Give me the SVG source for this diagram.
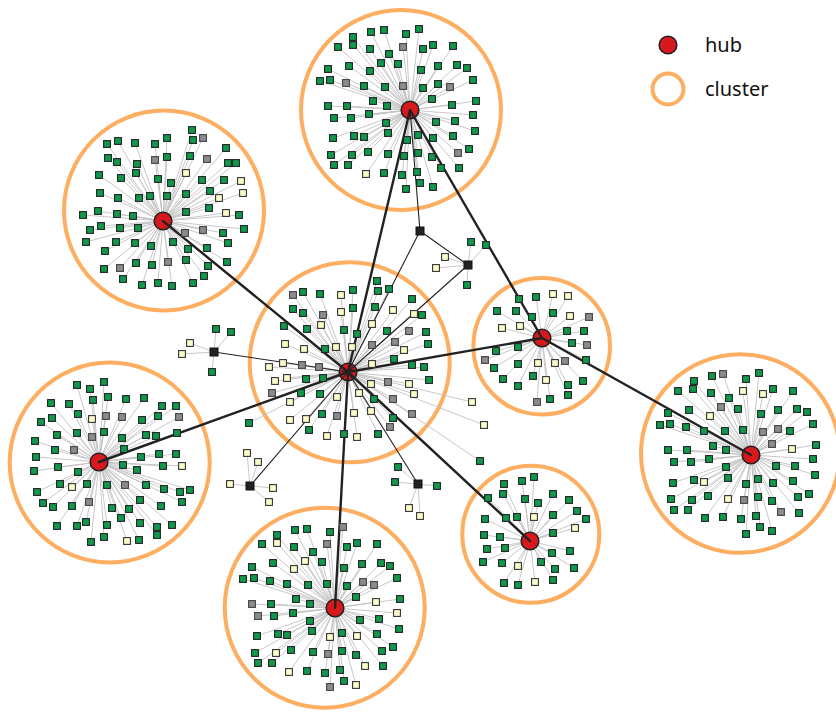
<svg xmlns="http://www.w3.org/2000/svg" xmlns:xlink="http://www.w3.org/1999/xlink" width="836" height="712" viewBox="0 0 836 712">
<style>
.bg{fill:#fff}
.cl{fill:none;stroke:#fdae61;stroke-width:4}
.sp{fill:none;stroke:#c2c2c2;stroke-width:0.9}
.thick{fill:none;stroke:#222;stroke-width:2.4;stroke-linecap:round}
.thin{fill:none;stroke:#222;stroke-width:1.1}
.hub{fill:#d7191c;stroke:#222;stroke-width:1.6}
.g{fill:#0f9a4b;stroke:#222;stroke-width:1.1}
.G{fill:#8c8c8c;stroke:#444;stroke-width:1.1}
.y{fill:#ffffcc;stroke:#333;stroke-width:1.1}
.j{fill:#222;stroke:#111;stroke-width:1}
.lbl{font-family:"Noto Sans","Open Sans","Liberation Sans",sans-serif;font-size:20px;fill:#111}
</style>
<defs>
<rect id="s" x="-3.4" y="-3.4" width="6.8" height="6.8"/>
<rect id="jn" x="-4" y="-4" width="8" height="8"/>
</defs>
<rect class="bg" width="836" height="712"/>

<g id="cluster-circles">
<circle class="cl" cx="401" cy="110" r="100"/>
<circle class="cl" cx="164" cy="210.5" r="100"/>
<circle class="cl" cx="109.7" cy="462.5" r="100"/>
<circle class="cl" cx="324.7" cy="607.7" r="100"/>
<circle class="cl" cx="530.8" cy="534.3" r="68.5"/>
<circle class="cl" cx="740.3" cy="453.5" r="99.3"/>
<circle class="cl" cx="541.7" cy="346.2" r="68.3"/>
<circle class="cl" cx="349.7" cy="362.3" r="100"/>
</g>

<g id="connectors">
<path class="sp" d="M410 110L353 37M410 110L371 32M410 110L384 30M410 110L406 34M410 110L419 29M410 110L338 47M410 110L353 45M410 110L370 49M410 110L423 49M410 110L433 45M410 110L453 46M410 110L389 54M410 110L381 63M410 110L398 64M410 110L349 66M410 110L328 69M410 110L370 71M410 110L421 70M410 110L438 66M410 110L457 65M410 110L467 68M410 110L320 81M410 110L330 80M410 110L364 86M410 110L385 87M410 110L423 88M410 110L438 84M410 110L473 80M410 110L373 101M410 110L387 106M410 110L328 106M410 110L347 106M410 110L432 99M410 110L452 105M410 110L476 101M410 110L334 118M410 110L351 118M410 110L369 114M410 110L473 115M410 110L386 123M410 110L436 122M410 110L455 121M410 110L388 133M410 110L333 138M410 110L354 136M410 110L364 137M410 110L418 135M410 110L407 140M410 110L433 138M410 110L453 136M410 110L475 131M410 110L331 155M410 110L352 155M410 110L368 152M410 110L388 154M410 110L404 156M410 110L418 153M410 110L432 157M410 110L469 149M410 110L334 165M410 110L348 165M410 110L384 173M410 110L402 175M410 110L417 172M410 110L441 168M410 110L459 168M410 110L420 183M410 110L433 187M410 110L406 189M410 110L403 47M410 110L346 83M410 110L403 86M410 110L450 87M410 110L458 153M410 110L366 174"/>
<path class="sp" d="M163 221L192 130M163 221L226 148M163 221L107 144M163 221L118 141M163 221L135 143M163 221L155 144M163 221L167 138M163 221L193 140M163 221L108 158M163 221L117 162M163 221L137 164M163 221L167 157M163 221L190 156M163 221L228 163M163 221L236 163M163 221L99 175M163 221L121 178M163 221L136 173M163 221L158 179M163 221L171 183M163 221L202 180M163 221L224 180M163 221L100 193M163 221L118 198M163 221L139 198M163 221L150 196M163 221L167 196M163 221L186 194M163 221L210 191M163 221L83 215M163 221L98 211M163 221L117 214M163 221L133 216M163 221L186 212M163 221L209 208M163 221L239 215M163 221L90 230M163 221L101 226M163 221L120 228M163 221L138 228M163 221L223 233M163 221L244 229M163 221L86 242M163 221L105 251M163 221L116 242M163 221L135 243M163 221L151 246M163 221L173 242M163 221L188 249M163 221L207 248M163 221L228 243M163 221L104 269M163 221L136 263M163 221L152 265M163 221L186 260M163 221L208 266M163 221L227 262M163 221L123 279M163 221L142 285M163 221L158 283M163 221L172 286M163 221L193 283M163 221L204 276M163 221L203 138M163 221L155 160M163 221L207 159M163 221L185 233M163 221L203 230M163 221L120 268M163 221L168 262M163 221L186 173M163 221L241 181M163 221L219 198M163 221L243 193M163 221L226 213"/>
<path class="sp" d="M99 462L77 385M99 462L90 389M99 462L104 382M99 462L51 403M99 462L69 404M99 462L78 414M99 462L93 400M99 462L108 397M99 462L126 399M99 462L144 398M99 462L162 406M99 462L176 406M99 462L41 422M99 462L142 420M99 462L158 416M99 462L52 418M99 462L57 435M99 462L77 433M99 462L104 432M99 462L122 438M99 462L146 435M99 462L156 436M99 462L177 433M99 462L35 441M99 462L55 450M99 462L124 449M99 462L159 454M99 462L176 454M99 462L36 457M99 462L58 467M99 462L78 472M99 462L123 465M99 462L141 457M99 462L137 470M99 462L163 466M99 462L34 471M99 462L37 492M99 462L60 484M99 462L87 484M99 462L107 485M99 462L146 485M99 462L164 489M99 462L180 492M99 462L190 490M99 462L43 503M99 462L53 507M99 462L72 506M99 462L112 508M99 462L129 509M99 462L140 500M99 462L161 506M99 462L182 502M99 462L57 526M99 462L77 526M99 462L86 522M99 462L107 525M99 462L121 518M99 462L140 523M99 462L157 527M99 462L172 525M99 462L91 542M99 462L104 537M99 462L139 540M99 462L157 535M99 462L106 416M99 462L122 417M99 462L179 417M99 462L92 437M99 462L74 450M99 462L125 485M99 462L89 502M99 462L92 419M99 462L182 466M99 462L72 487M99 462L127 541"/>
<path class="sp" d="M335 608L307 529M335 608L295 530M335 608L277 535M335 608L330 532M335 608L262 544M335 608L294 547M335 608L347 547M335 608L357 543M335 608L377 544M335 608L313 552M335 608L322 562M335 608L273 563M335 608L344 568M335 608L362 564M335 608L381 563M335 608L390 566M335 608L252 567M335 608L243 579M335 608L254 578M335 608L270 581M335 608L287 584M335 608L308 585M335 608L327 584M335 608L347 586M335 608L397 578M335 608L356 597M335 608L296 599M335 608L310 604M335 608L271 604M335 608L400 599M335 608L274 616M335 608L293 613M335 608L360 620M335 608L379 619M335 608L310 621M335 608L257 636M335 608L278 634M335 608L287 635M335 608L312 631M335 608L342 633M335 608L377 634M335 608L399 629M335 608L255 653M335 608L291 650M335 608L313 652M335 608L342 651M335 608L356 655M335 608L382 651M335 608L393 647M335 608L258 663M335 608L272 663M335 608L307 671M335 608L325 673M335 608L340 670M335 608L383 666M335 608L344 681M335 608L343 527M335 608L327 544M335 608L363 582M335 608L374 585M335 608L252 604M335 608L258 616M335 608L328 654M335 608L330 687M335 608L277 543M335 608L305 561M335 608L294 569M335 608L376 602M335 608L397 613M335 608L330 637M335 608L357 636M335 608L276 653M335 608L289 672M335 608L365 666M335 608L356 685"/>
<path class="sp" d="M530 541L534 477M530 541L522 481M530 541L504 484M530 541L488 498M530 541L503 494M530 541L525 499M530 541L538 503M530 541L553 494M530 541L569 500M530 541L485 519M530 541L506 518M530 541L517 517M530 541L553 515M530 541L577 511M530 541L586 519M530 541L484 535M530 541L500 537M530 541L553 533M530 541L487 549M530 541L505 548M530 541L552 553M530 541L570 551M530 541L483 562M530 541L502 563M530 541L541 562M530 541L555 569M530 541L574 568M530 541L504 583M530 541L518 585M530 541L553 580M530 541L534 517M530 541L575 528M530 541L518 566M530 541L535 582"/>
<path class="sp" d="M751 455L712 376M751 455L746 379M751 455L759 373M751 455L694 381M751 455L678 391M751 455L693 389M751 455L711 393M751 455L729 398M751 455L773 389M751 455L793 391M751 455L689 410M751 455L668 413M751 455L738 409M751 455L761 414M751 455L778 410M751 455L797 409M751 455L807 412M751 455L660 425M751 455L670 424M751 455L686 427M751 455L704 431M751 455L725 431M751 455L743 430M751 455L790 431M751 455L813 424M751 455L668 450M751 455L687 450M751 455L713 446M751 455L726 450M751 455L816 445M751 455L674 462M751 455L691 462M751 455L709 459M751 455L813 459M751 455L776 466M751 455L795 466M751 455L726 467M751 455L673 483M751 455L694 480M751 455L728 478M751 455L746 484M751 455L758 479M751 455L773 483M751 455L793 481M751 455L815 475M751 455L671 499M751 455L692 500M751 455L708 496M751 455L758 497M751 455L772 501M751 455L798 497M751 455L809 494M751 455L674 510M751 455L688 510M751 455L705 518M751 455L723 517M751 455L741 519M751 455L756 516M751 455L799 513M751 455L746 534M751 455L760 527M751 455L772 531M751 455L723 374M751 455L721 407M751 455L763 432M751 455L778 429M751 455L772 444M751 455L744 500M751 455L781 512M751 455L743 391M751 455L763 394M751 455L710 416M751 455L792 449M751 455L704 482M751 455L728 499"/>
<path class="sp" d="M542 338L519 299M542 338L536 297M542 338L497 311M542 338L516 311M542 338L532 317M542 338L553 313M542 338L567 331M542 338L584 331M542 338L572 343M542 338L518 347M542 338L496 351M542 338L494 368M542 338L518 364M542 338L586 360M542 338L503 379M542 338L518 386M542 338L533 376M542 338L568 385M542 338L583 381M542 338L550 399M542 338L568 395M542 338L589 317M542 338L587 345M542 338L485 360M542 338L565 361M542 338L537 402M542 338L553 294M542 338L568 296M542 338L570 316M542 338L502 328M542 338L520 326M542 338L538 363M542 338L555 363M542 338L546 380"/>
<path class="sp" d="M348 372L377 281M348 372L303 292M348 372L320 294M348 372L353 290M348 372L378 291M348 372L389 289M348 372L293 309M348 372L303 313M348 372L353 308M348 372L375 307M348 372L412 299M348 372L422 315M348 372L284 326M348 372L307 329M348 372L344 330M348 372L357 334M348 372L387 331M348 372L426 332M348 372L325 349M348 372L428 344M348 372L394 359M348 372L412 365M348 372L424 367M348 372L306 379M348 372L323 378M348 372L429 380M348 372L301 393M348 372L320 394M348 372L374 399M348 372L322 414M348 372L393 418M348 372L309 430M348 372L344 434M348 372L378 434M348 372L249 423M348 372L480 461M348 372L293 295M348 372L323 315M348 372L409 331M348 372L372 345M348 372L395 342M348 372L302 365M348 372L319 367M348 372L388 382M348 372L272 393M348 372L393 399M348 372L337 416M348 372L412 414M348 372L390 427M348 372L341 295M348 372L341 312M348 372L393 310M348 372L414 314M348 372L321 325M348 372L372 324M348 372L285 344M348 372L304 349M348 372L336 347M348 372L352 347M348 372L404 350M348 372L269 367M348 372L283 363M348 372L372 364M348 372L275 381M348 372L287 378M348 372L371 384M348 372L409 384M348 372L290 402M348 372L337 397M348 372L359 393M348 372L414 394M348 372L290 420M348 372L306 419M348 372L354 413M348 372L371 411M348 372L327 436M348 372L357 437M348 372L472 402M348 372L484 425"/>
<path class="sp" d="M468 265L471 242M468 265L486 245M468 265L467 285M468 265L445 257M468 265L436 268M214 352L216 329M214 352L231 332M214 352L212 372M214 352L190 343M214 352L182 354M250 486L247 453M250 486L258 462M250 486L230 484M250 486L273 488M250 486L269 502M418 484L398 467M418 484L395 482M418 484L437 486M418 484L409 508M418 484L420 516"/>
</g>

<g id="hubs">
<g id="hub-top"><circle class="hub" cx="410" cy="110" r="8.8"/></g>
<g id="hub-upper-left"><circle class="hub" cx="163" cy="221" r="8.8"/></g>
<g id="hub-left"><circle class="hub" cx="99" cy="462" r="8.8"/></g>
<g id="hub-bottom"><circle class="hub" cx="335" cy="608" r="8.8"/></g>
<g id="hub-bottom-right"><circle class="hub" cx="530" cy="541" r="8.8"/></g>
<g id="hub-right"><circle class="hub" cx="751" cy="455" r="8.8"/></g>
<g id="hub-right-small"><circle class="hub" cx="542" cy="338" r="8.8"/></g>
<g id="hub-center"><circle class="hub" cx="348" cy="372" r="8.8"/></g>
</g>

<g id="links">
<path class="thick" d="M410 110L348 372M410 110L542 338M163 221L348 372M99 462L348 372M335 608L348 372M348 372L542 338M348 372L530 541M542 338L751 455"/>
<path class="thin" d="M410 110L420 231M420 231L468 265M420 231L348 372M468 265L348 372M214 352L348 372M250 486L348 372M418 484L348 372"/>
</g>

<g id="junctions">
<g id="junction-a"><use href="#jn" class="j" x="420" y="231"/></g>
<g id="junction-b"><use href="#jn" class="j" x="468" y="265"/></g>
<g id="junction-c"><use href="#jn" class="j" x="214" y="352"/></g>
<g id="junction-d"><use href="#jn" class="j" x="250" y="486"/></g>
<g id="junction-e"><use href="#jn" class="j" x="418" y="484"/></g>
</g>

<g id="leaves-top">
<g class="g"><use href="#s" x="353" y="37"/><use href="#s" x="371" y="32"/><use href="#s" x="384" y="30"/><use href="#s" x="406" y="34"/><use href="#s" x="419" y="29"/><use href="#s" x="338" y="47"/><use href="#s" x="353" y="45"/><use href="#s" x="370" y="49"/><use href="#s" x="423" y="49"/><use href="#s" x="433" y="45"/><use href="#s" x="453" y="46"/><use href="#s" x="389" y="54"/><use href="#s" x="381" y="63"/><use href="#s" x="398" y="64"/><use href="#s" x="349" y="66"/><use href="#s" x="328" y="69"/><use href="#s" x="370" y="71"/><use href="#s" x="421" y="70"/><use href="#s" x="438" y="66"/><use href="#s" x="457" y="65"/><use href="#s" x="467" y="68"/><use href="#s" x="320" y="81"/><use href="#s" x="330" y="80"/><use href="#s" x="364" y="86"/><use href="#s" x="385" y="87"/><use href="#s" x="423" y="88"/><use href="#s" x="438" y="84"/><use href="#s" x="473" y="80"/><use href="#s" x="373" y="101"/><use href="#s" x="387" y="106"/><use href="#s" x="328" y="106"/><use href="#s" x="347" y="106"/><use href="#s" x="432" y="99"/><use href="#s" x="452" y="105"/><use href="#s" x="476" y="101"/><use href="#s" x="334" y="118"/><use href="#s" x="351" y="118"/><use href="#s" x="369" y="114"/><use href="#s" x="473" y="115"/><use href="#s" x="386" y="123"/><use href="#s" x="436" y="122"/><use href="#s" x="455" y="121"/><use href="#s" x="388" y="133"/><use href="#s" x="333" y="138"/><use href="#s" x="354" y="136"/><use href="#s" x="364" y="137"/><use href="#s" x="418" y="135"/><use href="#s" x="407" y="140"/><use href="#s" x="433" y="138"/><use href="#s" x="453" y="136"/><use href="#s" x="475" y="131"/><use href="#s" x="331" y="155"/><use href="#s" x="352" y="155"/><use href="#s" x="368" y="152"/><use href="#s" x="388" y="154"/><use href="#s" x="404" y="156"/><use href="#s" x="418" y="153"/><use href="#s" x="432" y="157"/><use href="#s" x="469" y="149"/><use href="#s" x="334" y="165"/><use href="#s" x="348" y="165"/><use href="#s" x="384" y="173"/><use href="#s" x="402" y="175"/><use href="#s" x="417" y="172"/><use href="#s" x="441" y="168"/><use href="#s" x="459" y="168"/><use href="#s" x="420" y="183"/><use href="#s" x="433" y="187"/><use href="#s" x="406" y="189"/></g>
<g class="G"><use href="#s" x="403" y="47"/><use href="#s" x="346" y="83"/><use href="#s" x="403" y="86"/><use href="#s" x="450" y="87"/><use href="#s" x="458" y="153"/></g>
<g class="y"><use href="#s" x="366" y="174"/></g>
</g>

<g id="leaves-upper-left">
<g class="g"><use href="#s" x="192" y="130"/><use href="#s" x="226" y="148"/><use href="#s" x="107" y="144"/><use href="#s" x="118" y="141"/><use href="#s" x="135" y="143"/><use href="#s" x="155" y="144"/><use href="#s" x="167" y="138"/><use href="#s" x="193" y="140"/><use href="#s" x="108" y="158"/><use href="#s" x="117" y="162"/><use href="#s" x="137" y="164"/><use href="#s" x="167" y="157"/><use href="#s" x="190" y="156"/><use href="#s" x="228" y="163"/><use href="#s" x="236" y="163"/><use href="#s" x="99" y="175"/><use href="#s" x="121" y="178"/><use href="#s" x="136" y="173"/><use href="#s" x="158" y="179"/><use href="#s" x="171" y="183"/><use href="#s" x="202" y="180"/><use href="#s" x="224" y="180"/><use href="#s" x="100" y="193"/><use href="#s" x="118" y="198"/><use href="#s" x="139" y="198"/><use href="#s" x="150" y="196"/><use href="#s" x="167" y="196"/><use href="#s" x="186" y="194"/><use href="#s" x="210" y="191"/><use href="#s" x="83" y="215"/><use href="#s" x="98" y="211"/><use href="#s" x="117" y="214"/><use href="#s" x="133" y="216"/><use href="#s" x="186" y="212"/><use href="#s" x="209" y="208"/><use href="#s" x="239" y="215"/><use href="#s" x="90" y="230"/><use href="#s" x="101" y="226"/><use href="#s" x="120" y="228"/><use href="#s" x="138" y="228"/><use href="#s" x="223" y="233"/><use href="#s" x="244" y="229"/><use href="#s" x="86" y="242"/><use href="#s" x="105" y="251"/><use href="#s" x="116" y="242"/><use href="#s" x="135" y="243"/><use href="#s" x="151" y="246"/><use href="#s" x="173" y="242"/><use href="#s" x="188" y="249"/><use href="#s" x="207" y="248"/><use href="#s" x="228" y="243"/><use href="#s" x="104" y="269"/><use href="#s" x="136" y="263"/><use href="#s" x="152" y="265"/><use href="#s" x="186" y="260"/><use href="#s" x="208" y="266"/><use href="#s" x="227" y="262"/><use href="#s" x="123" y="279"/><use href="#s" x="142" y="285"/><use href="#s" x="158" y="283"/><use href="#s" x="172" y="286"/><use href="#s" x="193" y="283"/><use href="#s" x="204" y="276"/></g>
<g class="G"><use href="#s" x="203" y="138"/><use href="#s" x="155" y="160"/><use href="#s" x="207" y="159"/><use href="#s" x="185" y="233"/><use href="#s" x="203" y="230"/><use href="#s" x="120" y="268"/><use href="#s" x="168" y="262"/></g>
<g class="y"><use href="#s" x="186" y="173"/><use href="#s" x="241" y="181"/><use href="#s" x="219" y="198"/><use href="#s" x="243" y="193"/><use href="#s" x="226" y="213"/></g>
</g>

<g id="leaves-left">
<g class="g"><use href="#s" x="77" y="385"/><use href="#s" x="90" y="389"/><use href="#s" x="104" y="382"/><use href="#s" x="51" y="403"/><use href="#s" x="69" y="404"/><use href="#s" x="78" y="414"/><use href="#s" x="93" y="400"/><use href="#s" x="108" y="397"/><use href="#s" x="126" y="399"/><use href="#s" x="144" y="398"/><use href="#s" x="162" y="406"/><use href="#s" x="176" y="406"/><use href="#s" x="41" y="422"/><use href="#s" x="142" y="420"/><use href="#s" x="158" y="416"/><use href="#s" x="52" y="418"/><use href="#s" x="57" y="435"/><use href="#s" x="77" y="433"/><use href="#s" x="104" y="432"/><use href="#s" x="122" y="438"/><use href="#s" x="146" y="435"/><use href="#s" x="156" y="436"/><use href="#s" x="177" y="433"/><use href="#s" x="35" y="441"/><use href="#s" x="55" y="450"/><use href="#s" x="124" y="449"/><use href="#s" x="159" y="454"/><use href="#s" x="176" y="454"/><use href="#s" x="36" y="457"/><use href="#s" x="58" y="467"/><use href="#s" x="78" y="472"/><use href="#s" x="123" y="465"/><use href="#s" x="141" y="457"/><use href="#s" x="137" y="470"/><use href="#s" x="163" y="466"/><use href="#s" x="34" y="471"/><use href="#s" x="37" y="492"/><use href="#s" x="60" y="484"/><use href="#s" x="87" y="484"/><use href="#s" x="107" y="485"/><use href="#s" x="146" y="485"/><use href="#s" x="164" y="489"/><use href="#s" x="180" y="492"/><use href="#s" x="190" y="490"/><use href="#s" x="43" y="503"/><use href="#s" x="53" y="507"/><use href="#s" x="72" y="506"/><use href="#s" x="112" y="508"/><use href="#s" x="129" y="509"/><use href="#s" x="140" y="500"/><use href="#s" x="161" y="506"/><use href="#s" x="182" y="502"/><use href="#s" x="57" y="526"/><use href="#s" x="77" y="526"/><use href="#s" x="86" y="522"/><use href="#s" x="107" y="525"/><use href="#s" x="121" y="518"/><use href="#s" x="140" y="523"/><use href="#s" x="157" y="527"/><use href="#s" x="172" y="525"/><use href="#s" x="91" y="542"/><use href="#s" x="104" y="537"/><use href="#s" x="139" y="540"/><use href="#s" x="157" y="535"/></g>
<g class="G"><use href="#s" x="106" y="416"/><use href="#s" x="122" y="417"/><use href="#s" x="179" y="417"/><use href="#s" x="92" y="437"/><use href="#s" x="74" y="450"/><use href="#s" x="125" y="485"/><use href="#s" x="89" y="502"/></g>
<g class="y"><use href="#s" x="92" y="419"/><use href="#s" x="182" y="466"/><use href="#s" x="72" y="487"/><use href="#s" x="127" y="541"/></g>
</g>

<g id="leaves-bottom">
<g class="g"><use href="#s" x="307" y="529"/><use href="#s" x="295" y="530"/><use href="#s" x="277" y="535"/><use href="#s" x="330" y="532"/><use href="#s" x="262" y="544"/><use href="#s" x="294" y="547"/><use href="#s" x="347" y="547"/><use href="#s" x="357" y="543"/><use href="#s" x="377" y="544"/><use href="#s" x="313" y="552"/><use href="#s" x="322" y="562"/><use href="#s" x="273" y="563"/><use href="#s" x="344" y="568"/><use href="#s" x="362" y="564"/><use href="#s" x="381" y="563"/><use href="#s" x="390" y="566"/><use href="#s" x="252" y="567"/><use href="#s" x="243" y="579"/><use href="#s" x="254" y="578"/><use href="#s" x="270" y="581"/><use href="#s" x="287" y="584"/><use href="#s" x="308" y="585"/><use href="#s" x="327" y="584"/><use href="#s" x="347" y="586"/><use href="#s" x="397" y="578"/><use href="#s" x="356" y="597"/><use href="#s" x="296" y="599"/><use href="#s" x="310" y="604"/><use href="#s" x="271" y="604"/><use href="#s" x="400" y="599"/><use href="#s" x="274" y="616"/><use href="#s" x="293" y="613"/><use href="#s" x="360" y="620"/><use href="#s" x="379" y="619"/><use href="#s" x="310" y="621"/><use href="#s" x="257" y="636"/><use href="#s" x="278" y="634"/><use href="#s" x="287" y="635"/><use href="#s" x="312" y="631"/><use href="#s" x="342" y="633"/><use href="#s" x="377" y="634"/><use href="#s" x="399" y="629"/><use href="#s" x="255" y="653"/><use href="#s" x="291" y="650"/><use href="#s" x="313" y="652"/><use href="#s" x="342" y="651"/><use href="#s" x="356" y="655"/><use href="#s" x="382" y="651"/><use href="#s" x="393" y="647"/><use href="#s" x="258" y="663"/><use href="#s" x="272" y="663"/><use href="#s" x="307" y="671"/><use href="#s" x="325" y="673"/><use href="#s" x="340" y="670"/><use href="#s" x="383" y="666"/><use href="#s" x="344" y="681"/></g>
<g class="G"><use href="#s" x="343" y="527"/><use href="#s" x="327" y="544"/><use href="#s" x="363" y="582"/><use href="#s" x="374" y="585"/><use href="#s" x="252" y="604"/><use href="#s" x="258" y="616"/><use href="#s" x="328" y="654"/><use href="#s" x="330" y="687"/></g>
<g class="y"><use href="#s" x="277" y="543"/><use href="#s" x="305" y="561"/><use href="#s" x="294" y="569"/><use href="#s" x="376" y="602"/><use href="#s" x="397" y="613"/><use href="#s" x="330" y="637"/><use href="#s" x="357" y="636"/><use href="#s" x="276" y="653"/><use href="#s" x="289" y="672"/><use href="#s" x="365" y="666"/><use href="#s" x="356" y="685"/></g>
</g>

<g id="leaves-bottom-right">
<g class="g"><use href="#s" x="534" y="477"/><use href="#s" x="522" y="481"/><use href="#s" x="504" y="484"/><use href="#s" x="488" y="498"/><use href="#s" x="503" y="494"/><use href="#s" x="525" y="499"/><use href="#s" x="538" y="503"/><use href="#s" x="553" y="494"/><use href="#s" x="569" y="500"/><use href="#s" x="485" y="519"/><use href="#s" x="506" y="518"/><use href="#s" x="517" y="517"/><use href="#s" x="553" y="515"/><use href="#s" x="577" y="511"/><use href="#s" x="586" y="519"/><use href="#s" x="484" y="535"/><use href="#s" x="500" y="537"/><use href="#s" x="553" y="533"/><use href="#s" x="487" y="549"/><use href="#s" x="505" y="548"/><use href="#s" x="552" y="553"/><use href="#s" x="570" y="551"/><use href="#s" x="483" y="562"/><use href="#s" x="502" y="563"/><use href="#s" x="541" y="562"/><use href="#s" x="555" y="569"/><use href="#s" x="574" y="568"/><use href="#s" x="504" y="583"/><use href="#s" x="518" y="585"/><use href="#s" x="553" y="580"/></g>
<g class="y"><use href="#s" x="534" y="517"/><use href="#s" x="575" y="528"/><use href="#s" x="518" y="566"/><use href="#s" x="535" y="582"/></g>
</g>

<g id="leaves-right">
<g class="g"><use href="#s" x="712" y="376"/><use href="#s" x="746" y="379"/><use href="#s" x="759" y="373"/><use href="#s" x="694" y="381"/><use href="#s" x="678" y="391"/><use href="#s" x="693" y="389"/><use href="#s" x="711" y="393"/><use href="#s" x="729" y="398"/><use href="#s" x="773" y="389"/><use href="#s" x="793" y="391"/><use href="#s" x="689" y="410"/><use href="#s" x="668" y="413"/><use href="#s" x="738" y="409"/><use href="#s" x="761" y="414"/><use href="#s" x="778" y="410"/><use href="#s" x="797" y="409"/><use href="#s" x="807" y="412"/><use href="#s" x="660" y="425"/><use href="#s" x="670" y="424"/><use href="#s" x="686" y="427"/><use href="#s" x="704" y="431"/><use href="#s" x="725" y="431"/><use href="#s" x="743" y="430"/><use href="#s" x="790" y="431"/><use href="#s" x="813" y="424"/><use href="#s" x="668" y="450"/><use href="#s" x="687" y="450"/><use href="#s" x="713" y="446"/><use href="#s" x="726" y="450"/><use href="#s" x="816" y="445"/><use href="#s" x="674" y="462"/><use href="#s" x="691" y="462"/><use href="#s" x="709" y="459"/><use href="#s" x="813" y="459"/><use href="#s" x="776" y="466"/><use href="#s" x="795" y="466"/><use href="#s" x="726" y="467"/><use href="#s" x="673" y="483"/><use href="#s" x="694" y="480"/><use href="#s" x="728" y="478"/><use href="#s" x="746" y="484"/><use href="#s" x="758" y="479"/><use href="#s" x="773" y="483"/><use href="#s" x="793" y="481"/><use href="#s" x="815" y="475"/><use href="#s" x="671" y="499"/><use href="#s" x="692" y="500"/><use href="#s" x="708" y="496"/><use href="#s" x="758" y="497"/><use href="#s" x="772" y="501"/><use href="#s" x="798" y="497"/><use href="#s" x="809" y="494"/><use href="#s" x="674" y="510"/><use href="#s" x="688" y="510"/><use href="#s" x="705" y="518"/><use href="#s" x="723" y="517"/><use href="#s" x="741" y="519"/><use href="#s" x="756" y="516"/><use href="#s" x="799" y="513"/><use href="#s" x="746" y="534"/><use href="#s" x="760" y="527"/><use href="#s" x="772" y="531"/></g>
<g class="G"><use href="#s" x="723" y="374"/><use href="#s" x="721" y="407"/><use href="#s" x="763" y="432"/><use href="#s" x="778" y="429"/><use href="#s" x="772" y="444"/><use href="#s" x="744" y="500"/><use href="#s" x="781" y="512"/></g>
<g class="y"><use href="#s" x="743" y="391"/><use href="#s" x="763" y="394"/><use href="#s" x="710" y="416"/><use href="#s" x="792" y="449"/><use href="#s" x="704" y="482"/><use href="#s" x="728" y="499"/></g>
</g>

<g id="leaves-right-small">
<g class="g"><use href="#s" x="519" y="299"/><use href="#s" x="536" y="297"/><use href="#s" x="497" y="311"/><use href="#s" x="516" y="311"/><use href="#s" x="532" y="317"/><use href="#s" x="553" y="313"/><use href="#s" x="567" y="331"/><use href="#s" x="584" y="331"/><use href="#s" x="572" y="343"/><use href="#s" x="518" y="347"/><use href="#s" x="496" y="351"/><use href="#s" x="494" y="368"/><use href="#s" x="518" y="364"/><use href="#s" x="586" y="360"/><use href="#s" x="503" y="379"/><use href="#s" x="518" y="386"/><use href="#s" x="533" y="376"/><use href="#s" x="568" y="385"/><use href="#s" x="583" y="381"/><use href="#s" x="550" y="399"/><use href="#s" x="568" y="395"/></g>
<g class="G"><use href="#s" x="589" y="317"/><use href="#s" x="587" y="345"/><use href="#s" x="485" y="360"/><use href="#s" x="565" y="361"/><use href="#s" x="537" y="402"/></g>
<g class="y"><use href="#s" x="553" y="294"/><use href="#s" x="568" y="296"/><use href="#s" x="570" y="316"/><use href="#s" x="502" y="328"/><use href="#s" x="520" y="326"/><use href="#s" x="538" y="363"/><use href="#s" x="555" y="363"/><use href="#s" x="546" y="380"/></g>
</g>

<g id="leaves-center">
<g class="g"><use href="#s" x="377" y="281"/><use href="#s" x="303" y="292"/><use href="#s" x="320" y="294"/><use href="#s" x="353" y="290"/><use href="#s" x="378" y="291"/><use href="#s" x="389" y="289"/><use href="#s" x="293" y="309"/><use href="#s" x="303" y="313"/><use href="#s" x="353" y="308"/><use href="#s" x="375" y="307"/><use href="#s" x="412" y="299"/><use href="#s" x="422" y="315"/><use href="#s" x="284" y="326"/><use href="#s" x="307" y="329"/><use href="#s" x="344" y="330"/><use href="#s" x="357" y="334"/><use href="#s" x="387" y="331"/><use href="#s" x="426" y="332"/><use href="#s" x="325" y="349"/><use href="#s" x="428" y="344"/><use href="#s" x="394" y="359"/><use href="#s" x="412" y="365"/><use href="#s" x="424" y="367"/><use href="#s" x="306" y="379"/><use href="#s" x="323" y="378"/><use href="#s" x="429" y="380"/><use href="#s" x="301" y="393"/><use href="#s" x="320" y="394"/><use href="#s" x="374" y="399"/><use href="#s" x="322" y="414"/><use href="#s" x="393" y="418"/><use href="#s" x="309" y="430"/><use href="#s" x="344" y="434"/><use href="#s" x="378" y="434"/><use href="#s" x="249" y="423"/><use href="#s" x="480" y="461"/></g>
<g class="G"><use href="#s" x="293" y="295"/><use href="#s" x="323" y="315"/><use href="#s" x="409" y="331"/><use href="#s" x="372" y="345"/><use href="#s" x="395" y="342"/><use href="#s" x="302" y="365"/><use href="#s" x="319" y="367"/><use href="#s" x="388" y="382"/><use href="#s" x="272" y="393"/><use href="#s" x="393" y="399"/><use href="#s" x="337" y="416"/><use href="#s" x="412" y="414"/><use href="#s" x="390" y="427"/></g>
<g class="y"><use href="#s" x="341" y="295"/><use href="#s" x="341" y="312"/><use href="#s" x="393" y="310"/><use href="#s" x="414" y="314"/><use href="#s" x="321" y="325"/><use href="#s" x="372" y="324"/><use href="#s" x="285" y="344"/><use href="#s" x="304" y="349"/><use href="#s" x="336" y="347"/><use href="#s" x="352" y="347"/><use href="#s" x="404" y="350"/><use href="#s" x="269" y="367"/><use href="#s" x="283" y="363"/><use href="#s" x="372" y="364"/><use href="#s" x="275" y="381"/><use href="#s" x="287" y="378"/><use href="#s" x="371" y="384"/><use href="#s" x="409" y="384"/><use href="#s" x="290" y="402"/><use href="#s" x="337" y="397"/><use href="#s" x="359" y="393"/><use href="#s" x="414" y="394"/><use href="#s" x="290" y="420"/><use href="#s" x="306" y="419"/><use href="#s" x="354" y="413"/><use href="#s" x="371" y="411"/><use href="#s" x="327" y="436"/><use href="#s" x="357" y="437"/><use href="#s" x="472" y="402"/><use href="#s" x="484" y="425"/></g>
</g>

<g id="leaves-junctions">
<g class="g"><use href="#s" x="471" y="242"/><use href="#s" x="486" y="245"/><use href="#s" x="467" y="285"/><use href="#s" x="216" y="329"/><use href="#s" x="231" y="332"/><use href="#s" x="212" y="372"/><use href="#s" x="398" y="467"/><use href="#s" x="395" y="482"/><use href="#s" x="437" y="486"/></g>
<g class="y"><use href="#s" x="445" y="257"/><use href="#s" x="436" y="268"/><use href="#s" x="190" y="343"/><use href="#s" x="182" y="354"/><use href="#s" x="247" y="453"/><use href="#s" x="258" y="462"/><use href="#s" x="230" y="484"/><use href="#s" x="273" y="488"/><use href="#s" x="269" y="502"/><use href="#s" x="409" y="508"/><use href="#s" x="420" y="516"/></g>
</g>

<g id="legend">
<g id="legend-hub"><circle class="hub" cx="668" cy="45" r="8.8"/><text class="lbl" x="705" y="52">hub</text></g>
<g id="legend-cluster"><circle class="cl" cx="668" cy="89" r="15.5"/><text class="lbl" x="705" y="96">cluster</text></g>
</g>
</svg>
